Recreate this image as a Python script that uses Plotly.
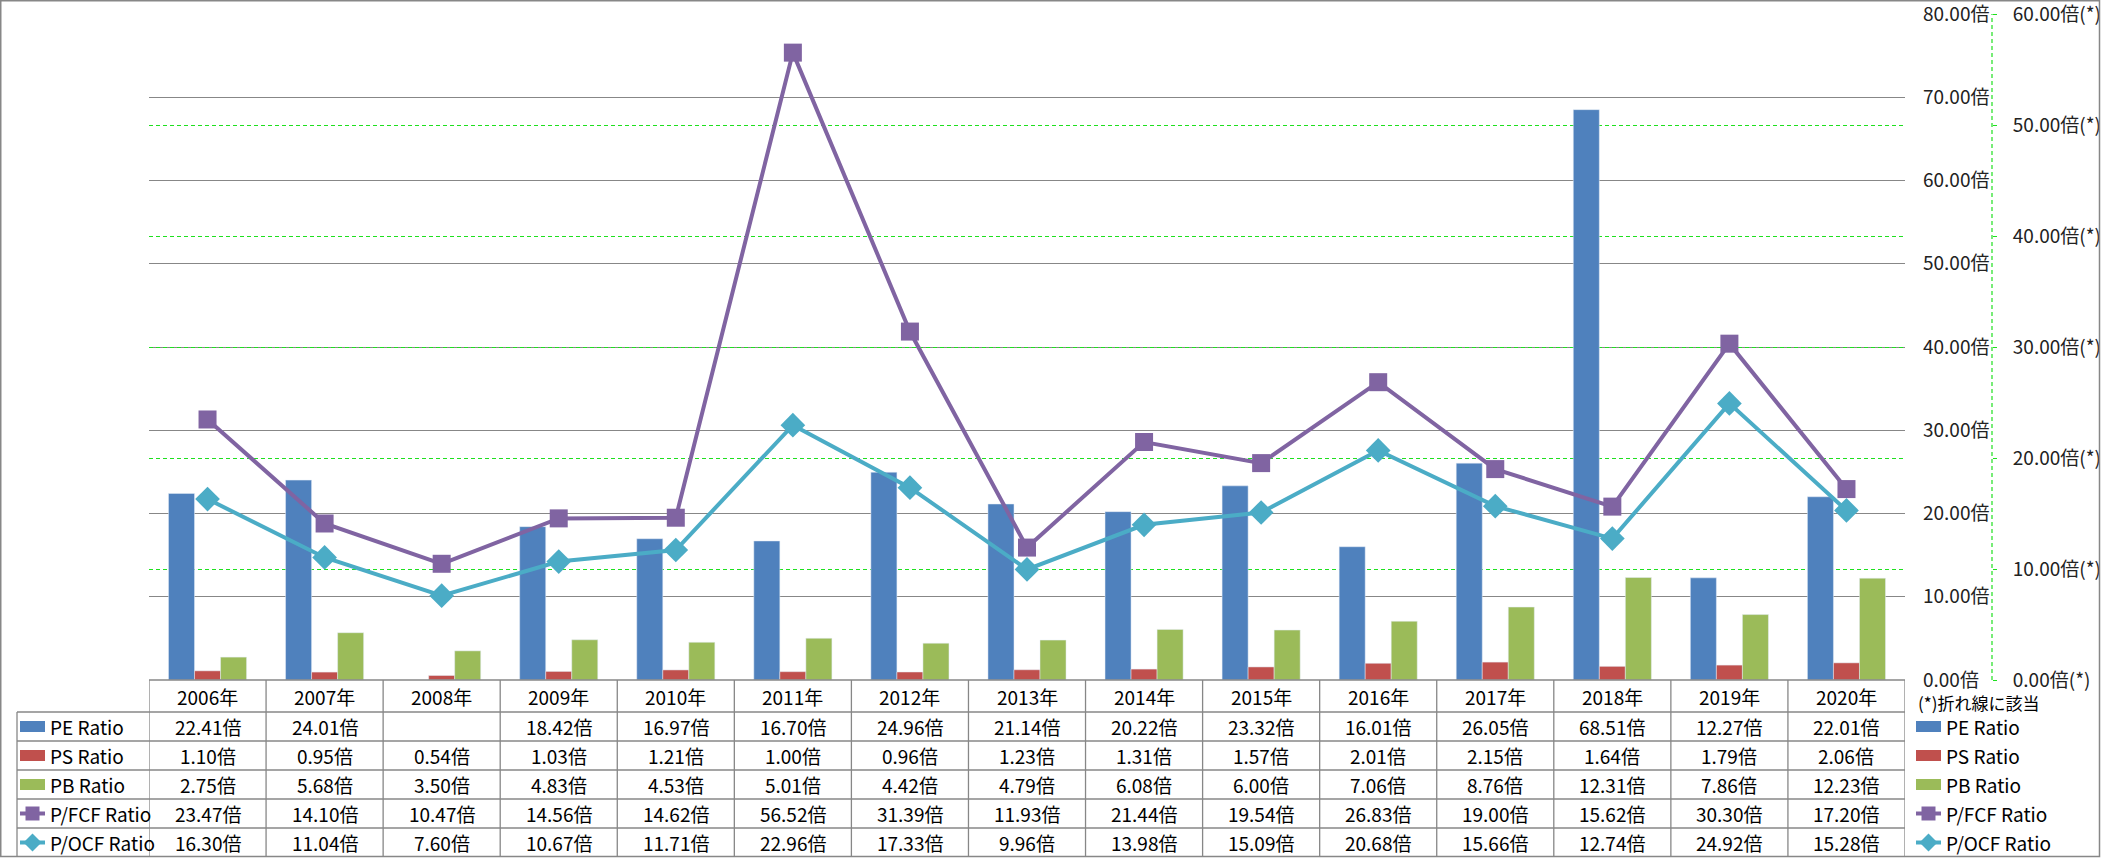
import plotly.graph_objects as go

W, H = 2101, 858

years = ["2006年", "2007年", "2008年", "2009年", "2010年", "2011年", "2012年", "2013年",
         "2014年", "2015年", "2016年", "2017年", "2018年", "2019年", "2020年"]
pe_ratio = [22.41, 24.01, None, 18.42, 16.97, 16.70, 24.96, 21.14, 20.22, 23.32, 16.01, 26.05, 68.51, 12.27, 22.01]
ps_ratio = [1.10, 0.95, 0.54, 1.03, 1.21, 1.00, 0.96, 1.23, 1.31, 1.57, 2.01, 2.15, 1.64, 1.79, 2.06]
pb_ratio = [2.75, 5.68, 3.50, 4.83, 4.53, 5.01, 4.42, 4.79, 6.08, 6.00, 7.06, 8.76, 12.31, 7.86, 12.23]
pfcf_ratio = [23.47, 14.10, 10.47, 14.56, 14.62, 56.52, 31.39, 11.93, 21.44, 19.54, 26.83, 19.00, 15.62, 30.30, 17.20]
pocf_ratio = [16.30, 11.04, 7.60, 10.67, 11.71, 22.96, 17.33, 9.96, 13.98, 15.09, 20.68, 15.66, 12.74, 24.92, 15.28]

series_names = ["PE Ratio", "PS Ratio", "PB Ratio", "P/FCF Ratio", "P/OCF Ratio"]
primary_ticks = [0, 10, 20, 30, 40, 50, 60, 70, 80]
secondary_ticks = [0, 10, 20, 30, 40, 50, 60]
note_text = "(*)折れ線に該当"

C_PE, C_PS, C_PB, C_FCF, C_OCF = "#4F81BD", "#C0504D", "#9BBB59", "#8064A2", "#4BACC6"
GRID = "#878787"
GREEN = "#1EE01E"
FONT = "Noto Sans CJK JP"
FS = 19


def px(x):
    return x / W


def py(y):
    return 1 - y / H


PLOT_L, PLOT_R, PLOT_T, PLOT_B = 149, 1905, 14, 680

fig = go.Figure()
fig.add_trace(go.Bar(x=years, y=pe_ratio, name=series_names[0], marker_color=C_PE))
fig.add_trace(go.Bar(x=years, y=ps_ratio, name=series_names[1], marker_color=C_PS))
fig.add_trace(go.Bar(x=years, y=pb_ratio, name=series_names[2], marker_color=C_PB))
fig.add_trace(go.Scatter(x=years, y=pfcf_ratio, name=series_names[3], yaxis="y2", mode="lines+markers",
                         line=dict(color=C_FCF, width=4),
                         marker=dict(symbol="square", size=18, color=C_FCF)))
fig.add_trace(go.Scatter(x=years, y=pocf_ratio, name=series_names[4], yaxis="y2", mode="lines+markers",
                         line=dict(color=C_OCF, width=4),
                         marker=dict(symbol="diamond", size=19, color=C_OCF)))

shapes = []
annotations = []

# outer chart border
shapes.append(dict(type="rect", xref="paper", yref="paper", x0=px(0.75), x1=px(W - 1.5), y0=py(H - 1.5), y1=py(0.75),
                   line=dict(color=GRID, width=1.5), fillcolor="rgba(0,0,0,0)", layer="above"))

# secondary axis dashed line
shapes.append(dict(type="line", xref="paper", yref="paper", x0=px(1992), x1=px(1992), y0=py(PLOT_B), y1=py(PLOT_T),
                   line=dict(color=GREEN, width=1.2, dash="4px,3px")))

# data table
ROW_TOP = PLOT_B
ROW_H = [ROW_TOP, 712, 741, 770, 799, 828, 857]
LEG_L = 17
line_style = dict(color=GRID, width=1.3)
shapes.append(dict(type="line", xref="paper", yref="paper", x0=px(PLOT_L), x1=px(PLOT_R), y0=py(ROW_TOP), y1=py(ROW_TOP), line=line_style, layer="above"))
for yy in ROW_H[1:-1]:
    shapes.append(dict(type="line", xref="paper", yref="paper", x0=px(LEG_L), x1=px(PLOT_R), y0=py(yy), y1=py(yy), line=line_style, layer="above"))
shapes.append(dict(type="line", xref="paper", yref="paper", x0=px(LEG_L), x1=px(LEG_L), y0=py(712), y1=py(857), line=line_style))
for i in range(len(years) + 1):
    shapes.append(dict(type="line", xref="x", yref="paper", x0=i - 0.5, x1=i - 0.5, y0=py(ROW_TOP), y1=py(857), line=line_style))

for yr in years:
    annotations.append(dict(x=yr, xref="x", y=py((ROW_H[0] + ROW_H[1]) / 2), yref="paper", text=yr,
                            xanchor="center", yanchor="middle",
                            showarrow=False, font=dict(family=FONT, size=FS, color="#000")))

rows = [pe_ratio, ps_ratio, pb_ratio, pfcf_ratio, pocf_ratio]
for r, vals in enumerate(rows):
    yc = py((ROW_H[r + 1] + ROW_H[r + 2]) / 2)
    for yr, v in zip(years, vals):
        txt = "" if v is None else f"{v:.2f}倍"
        annotations.append(dict(x=yr, xref="x", y=yc, yref="paper", text=txt, showarrow=False,
                                xanchor="center", yanchor="middle",
                                font=dict(family=FONT, size=FS, color="#000")))

colors = [C_PE, C_PS, C_PB, C_FCF, C_OCF]


def legend_key(x0, x1, yc, idx):
    col = colors[idx]
    if idx < 3:
        shapes.append(dict(type="rect", xref="paper", yref="paper", x0=px(x0), x1=px(x1), y0=py(yc + 5.5), y1=py(yc - 5.5),
                           fillcolor=col, line=dict(width=0)))
    else:
        xm = (x0 + x1) / 2
        shapes.append(dict(type="line", xref="paper", yref="paper", x0=px(x0), x1=px(x1), y0=py(yc), y1=py(yc),
                           line=dict(color=col, width=4)))
        if idx == 3:
            shapes.append(dict(type="rect", xref="paper", yref="paper", x0=px(xm - 7), x1=px(xm + 7), y0=py(yc + 7), y1=py(yc - 7),
                               fillcolor=col, line=dict(width=0)))
        else:
            path = f"M {px(xm - 9)} {py(yc)} L {px(xm)} {py(yc - 9)} L {px(xm + 9)} {py(yc)} L {px(xm)} {py(yc + 9)} Z"
            shapes.append(dict(type="path", xref="paper", yref="paper", path=path, fillcolor=col, line=dict(width=0)))


for r, name in enumerate(series_names):
    yc = (ROW_H[r + 1] + ROW_H[r + 2]) / 2
    legend_key(20, 45, yc, r)
    annotations.append(dict(x=px(48), xref="paper", y=py(yc), yref="paper", text=name, showarrow=False,
                            xanchor="left", yanchor="middle", font=dict(family=FONT, size=FS, color="#000")))
    legend_key(1916, 1941, yc, r)
    annotations.append(dict(x=px(1944), xref="paper", y=py(yc), yref="paper", text=name, showarrow=False,
                            xanchor="left", yanchor="middle", font=dict(family=FONT, size=FS, color="#000")))

annotations.append(dict(x=px(1916), xref="paper", y=py(702), yref="paper", text=note_text, showarrow=False,
                        xanchor="left", yanchor="middle", font=dict(family=FONT, size=17, color="#000")))

fig.update_layout(
    width=W, height=H, margin=dict(l=0, r=0, t=0, b=0, pad=0, autoexpand=False), autosize=False,
    paper_bgcolor="white", plot_bgcolor="white", showlegend=False,
    barmode="group", bargap=0.333, bargroupgap=0,
    xaxis=dict(type="category", domain=[px(PLOT_L), px(PLOT_R)], range=[-0.5, len(years) - 0.5],
               showticklabels=False, showgrid=False, zeroline=False, showline=False, ticks="", automargin=False),
    yaxis=dict(domain=[py(PLOT_B), py(PLOT_T)], range=[0, 80], side="right", anchor="x",
               tickvals=primary_ticks, ticktext=[f"{v:.2f}倍" for v in primary_ticks],
               showgrid=True, gridcolor=GRID, gridwidth=1.3, zeroline=False, showline=False, ticks="",
               automargin=False, ticklabelstandoff=17, ticklabeloverflow="allow",
               tickfont=dict(family=FONT, size=FS, color="#222")),
    yaxis2=dict(overlaying="y", range=[0, 60], side="right", anchor="free", position=px(1992),
                tickvals=secondary_ticks, ticktext=[f"{v:.2f}倍(*)" for v in secondary_ticks],
                showgrid=True, gridcolor=GREEN, gridwidth=1.2, griddash="4px,3px", zeroline=False, showline=False,
                ticks="outside", ticklen=4, tickcolor=GREEN, tickwidth=1, automargin=False,
                ticklabelstandoff=12, ticklabeloverflow="allow",
                tickfont=dict(family=FONT, size=FS, color="#222")),
    shapes=shapes, annotations=annotations,
)

fig.write_html("out.html")
